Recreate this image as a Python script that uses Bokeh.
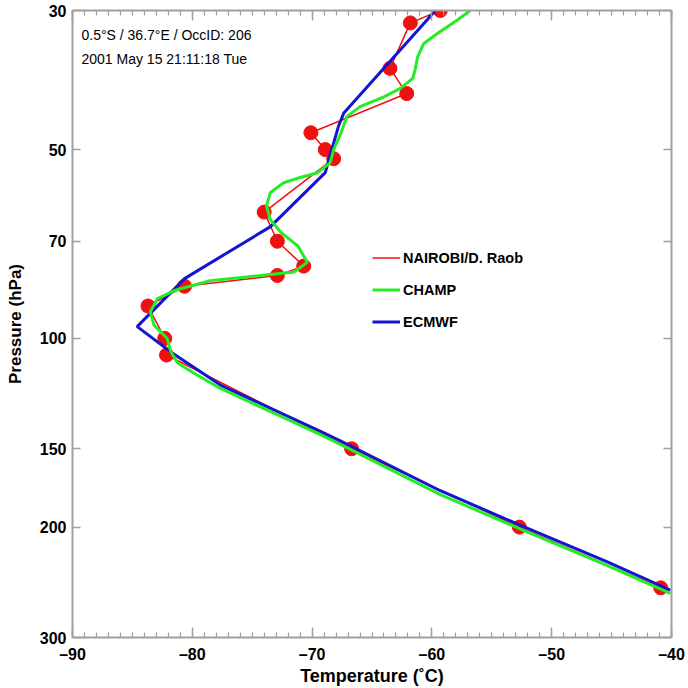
from bokeh.plotting import figure
from bokeh.models import (Range1d, FixedTicker, LinearAxis, LogAxis, Legend, LegendItem, Label)
from bokeh.embed import file_html
from bokeh.resources import INLINE

# ---- data ----
T_raob = [-59.3, -61.8, -63.5, -62.1, -70.1, -68.9, -68.2, -74.0, -72.9, -70.7, -72.9,
          -80.65, -83.7, -82.3, -82.15, -66.7, -52.7, -40.9]
P_raob = [30.0, 31.4, 37.1, 40.7, 47.0, 50.0, 51.7, 62.9, 70.0, 76.7, 79.4,
          82.6, 88.8, 100.0, 106.3, 150.0, 200.0, 250.0]

T_champ = [-56.8, -57.9, -59.6, -60.7, -61.2, -61.4, -61.6, -62.6, -64.0, -66.0, -67.1,
           -67.6, -68.2, -68.5, -69.6, -71.0, -72.4, -73.5, -73.8, -73.5, -72.6, -71.2,
           -70.4, -71.5, -74.3, -78.5, -81.5, -82.9, -83.5, -83.2, -82.1, -81.8, -81.2,
           -79.6, -77.7, -73.5, -69.3, -67.6, -59.3, -52.6, -45.4, -40.1]
P_champ = [30.0, 31.1, 32.7, 33.9, 35.6, 37.3, 38.5, 39.9, 41.2, 42.7, 44.3,
           47.1, 50.0, 52.5, 54.5, 55.4, 56.5, 58.6, 61.5, 64.6, 67.8, 71.2,
           75.6, 78.4, 79.4, 80.9, 83.9, 86.4, 90.7, 95.3, 100.0, 105.0, 109.6,
           114.4, 120.1, 130.8, 142.4, 147.7, 177.5, 201.5, 230.1, 255.2]

T_ecmwf = [-59.7, -67.35, -67.8, -68.6, -68.9, -73.5, -80.65, -84.6, -81.8, -77.65,
           -73.5, -69.3, -67.6, -59.3, -52.6, -45.4, -40.1]
P_ecmwf = [30.0, 43.7, 45.9, 51.9, 54.4, 66.4, 80.3, 95.8, 105.1, 118.7,
           129.2, 140.7, 145.9, 175.0, 198.7, 227.0, 252.0]

x_ticks = [-90, -80, -70, -60, -50, -40]
x_minor = list(range(-90, -39))
x_labels = {t: "\u2013" + str(abs(t)) for t in x_ticks}
y_ticks = [30, 50, 70, 100, 150, 200, 300]

info1 = "0.5\u00b0S / 36.7\u00b0E / OccID: 206"
info2 = "2001 May 15 21:11:18 Tue"

FONT = "Liberation Sans"
AX = "#a0a0a0"

p = figure(width=688, height=688, output_backend="svg", toolbar_location=None,
           y_axis_type="log", x_range=Range1d(-90, -40), y_range=Range1d(300, 30),
           min_border_left=72, min_border_right=17, min_border_top=10, min_border_bottom=47,
           x_axis_label="Temperature (\u02daC)", y_axis_label="Pressure (hPa)")
p.xgrid.visible = False
p.ygrid.visible = False
p.outline_line_color = None
p.background_fill_color = "white"
p.border_fill_color = "white"

xt = FixedTicker(ticks=x_ticks, minor_ticks=x_minor)
yt = FixedTicker(ticks=y_ticks, minor_ticks=[])

def style(ax):
    ax.axis_line_color = AX
    ax.axis_line_width = 2
    ax.major_tick_line_color = AX
    ax.minor_tick_line_color = AX
    ax.major_tick_line_width = 1.5
    ax.minor_tick_line_width = 1.2
    ax.major_tick_in = 10
    ax.major_tick_out = 0
    ax.minor_tick_in = 5
    ax.minor_tick_out = 0
    ax.major_label_text_font = FONT
    ax.major_label_text_font_style = "bold"
    ax.major_label_text_font_size = "16px"
    ax.major_label_text_color = "black"
    ax.axis_label_text_font = FONT
    ax.axis_label_text_font_style = "bold"
    ax.axis_label_text_color = "black"

xa = p.xaxis[0]
xa.ticker = xt
xa.major_label_overrides = x_labels
style(xa)
xa.axis_label_text_font_size = "18px"
xa.major_label_standoff = 8
xa.axis_label_standoff = 0

ya = p.yaxis[0]
ya.ticker = yt
style(ya)
ya.axis_label_text_font_size = "17px"
ya.major_tick_in = 8
ya.major_label_standoff = 6
ya.axis_label_standoff = 12

top = LinearAxis(ticker=xt)
style(top)
top.major_label_overrides = {t: "" for t in x_ticks}
top.major_label_standoff = 0
p.add_layout(top, "above")

right = LogAxis(ticker=yt)
style(right)
right.major_label_overrides = {t: "" for t in y_ticks}
right.major_label_standoff = 0
right.major_tick_in = 8
p.add_layout(right, "right")

red = "#f01010"
green = "#22ee22"
blue = "#1414d2"

r_line = p.line(T_raob, P_raob, line_color=red, line_width=1.5)
p.scatter(T_raob, P_raob, size=14, fill_color=red, line_color=red)
b_line = p.line(T_ecmwf, P_ecmwf, line_color=blue, line_width=3)
g_line = p.line(T_champ, P_champ, line_color=green, line_width=3)

legend = Legend(items=[LegendItem(label="NAIROBI/D. Raob", renderers=[r_line]),
                       LegendItem(label="CHAMP", renderers=[g_line]),
                       LegendItem(label="ECMWF", renderers=[b_line])],
                location=(300, 300), padding=0, margin=0, spacing=1,
                glyph_width=28, glyph_height=31, label_height=17, label_standoff=3,
                background_fill_alpha=0, border_line_alpha=0,
                label_text_font=FONT, label_text_font_style="bold",
                label_text_font_size="14.5px", label_text_color="black")
p.add_layout(legend, "center")

for txt, yy in [(info1, 603), (info2, 579)]:
    p.add_layout(Label(x=9, y=yy, x_units="screen", y_units="screen", text=txt,
                       text_font=FONT, text_font_size="14px", text_baseline="middle",
                       text_color="black"))

open("out.html", "w").write(file_html(p, INLINE))
